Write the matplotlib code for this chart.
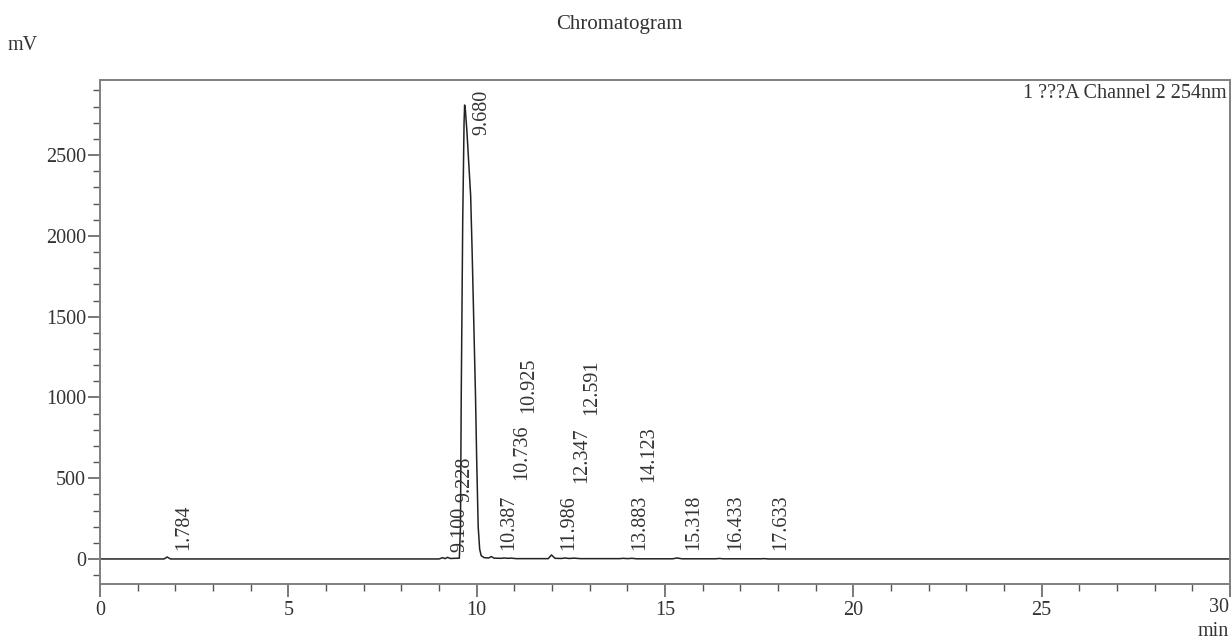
import matplotlib
matplotlib.use('Agg')
import matplotlib.pyplot as plt
from matplotlib.ticker import MultipleLocator

plt.rcParams['font.family'] = ['Liberation Serif', 'DejaVu Serif']

# trace (min, mV)
trace_t = [0.0, 1.70, 1.784, 1.87, 9.00, 9.10, 9.16, 9.228, 9.30, 9.54,
           9.57, 9.59, 9.63, 9.645, 9.665, 9.68, 9.70, 9.74, 9.79, 9.84,
           9.88, 9.93, 9.97, 10.00, 10.04, 10.08, 10.12, 10.20, 10.32, 10.387,
           10.46, 10.65, 10.736, 10.82, 10.925, 11.05, 11.90, 11.986, 12.08,
           12.25, 12.347, 12.45, 12.591, 12.75, 13.80, 13.883, 14.0, 14.123,
           14.25, 15.20, 15.318, 15.45, 16.35, 16.433, 16.55, 17.55, 17.633,
           17.75, 30.0]
trace_mv = [0, 0, 12, 0, 0, 8, 2, 10, 3, 5,
            200, 1000, 2100, 2350, 2700, 2810, 2780, 2650, 2450, 2250,
            1900, 1400, 1000, 620, 200, 60, 20, 8, 6, 15,
            5, 4, 6, 4, 5, 2, 2, 25, 4,
            3, 6, 3, 5, 2, 2, 4, 2, 4,
            1, 1, 6, 1, 1, 3, 1, 1, 2,
            0, 0]

# peak labels and where their text starts (mV)
peak_rt = [1.784, 9.100, 9.228, 9.680, 10.387, 10.736, 10.925, 11.986,
           12.347, 12.591, 13.883, 14.123, 15.318, 16.433, 17.633]
label_y = [56, 43, 353, 2624, 56, 489, 903, 56,
           470, 891, 56, 476, 56, 56, 56]

x_ticks = [0, 5, 10, 15, 20, 25, 30]

fig = plt.figure(figsize=(12.32, 6.41), dpi=100)
ax = fig.add_axes([100/1232, 1 - 584/641, 1130/1232, 504/641])

ax.plot(trace_t, trace_mv, color='#222222', lw=1.1)

for rt, ly in zip(peak_rt, label_y):
    ax.annotate('%.3f' % rt, xy=(rt, ly), xytext=(17, 0), textcoords='offset pixels',
                rotation=90, ha='center', va='bottom', fontsize=14.5, color='#333333')

ax.set_xlim(0, 30)
ax.set_ylim(-155, 2965)
# last label is drawn by hand so it can sit flush with the right edge
ax.set_xticks(x_ticks, labels=[str(v) for v in x_ticks[:-1]] + [''])
ax.xaxis.set_minor_locator(MultipleLocator(1))
ax.yaxis.set_major_locator(MultipleLocator(500))
ax.yaxis.set_minor_locator(MultipleLocator(100))

for s in ax.spines.values():
    s.set_color('#808080')
    s.set_linewidth(1.4)
ax.tick_params(which='major', direction='out', length=9, width=1.1, color='#555555',
               labelsize=14.5, labelcolor='#333333')
ax.tick_params(which='minor', direction='out', length=5, width=1.0, color='#555555')
ax.tick_params(axis='y', which='major', pad=1)
ax.tick_params(axis='x', which='major', pad=3)

fig.text(1229/1232, 1 - 608/641, str(x_ticks[-1]), ha='right', va='center',
         fontsize=14.5, color='#333333')

ax.text(0.997, 0.974, '1 ???A Channel 2 254nm', transform=ax.transAxes,
        ha='right', va='center', fontsize=14.5, color='#333333')

fig.text(619/1232, 1 - 24/641, 'Chromatogram', ha='center', va='center', fontsize=15, color='#333333')
fig.text(23/1232, 1 - 45/641, 'mV', ha='center', va='center', fontsize=14.5, color='#333333')
fig.text(1213/1232, 1 - 632/641, 'min', ha='center', va='center', fontsize=14.5, color='#333333')

fig.savefig('out.png', dpi=100)
